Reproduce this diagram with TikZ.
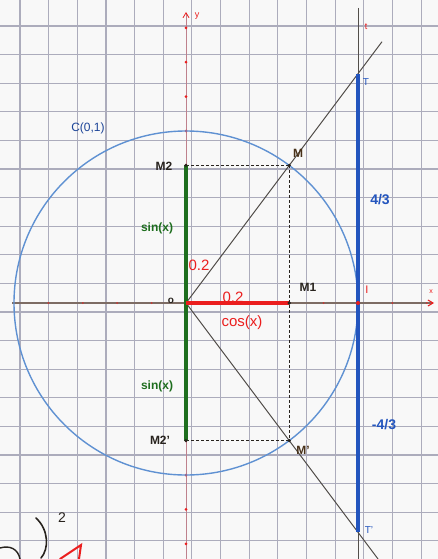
\documentclass[tikz,border=0pt]{standalone}
\usepackage{fontspec}
\setmainfont{Liberation Sans}
\usetikzlibrary{arrows.meta}
\definecolor{paper}{RGB}{248,248,248}
\definecolor{gridgray}{RGB}{172,172,188}
\definecolor{circblue}{RGB}{95,145,210}
\definecolor{tanblue}{RGB}{35,85,190}
\definecolor{sgreen}{RGB}{30,110,30}
\definecolor{cred}{RGB}{235,30,30}
\definecolor{axisc}{RGB}{125,108,100}
\definecolor{inkdark}{RGB}{40,35,30}
\begin{document}
\begin{tikzpicture}[x=1pt,y=-1pt,
  gridline/.style={draw=gridgray,line width=1.1pt},
  axisline/.style={draw=axisc,line width=1.1pt},
  thinline/.style={draw=inkdark!80,line width=1pt},
  dashline/.style={draw=inkdark,line width=1pt,dash pattern=on 3pt off 2pt},
  dot/.style={fill=cred,circle,inner sep=0pt,minimum size=3pt},
  xdot/.style={fill=cred!70!axisc,circle,inner sep=0pt,minimum size=2pt},
  mlabel/.style={font=\bfseries\fontsize{12}{12}\selectfont,text=inkdark,inner sep=1pt},
  rlabel/.style={font=\fontsize{15}{15}\selectfont,text=cred,inner sep=1pt},
  glabel/.style={font=\bfseries\fontsize{12}{12}\selectfont,text=sgreen,inner sep=1pt},
  blabel/.style={font=\bfseries\fontsize{14}{14}\selectfont,text=tanblue,inner sep=1pt},
  tiny/.style={font=\fontsize{9}{9}\selectfont,inner sep=1pt}]
\useasboundingbox (0,0) rectangle (438,559);
\fill[paper] (0,0) rectangle (438,559);
% grid paper
\foreach \i in {0,...,14} \draw[gridline] ({20+28.65*\i},0) -- ({20+28.65*\i},559);
\foreach \j in {0,...,18} \draw[gridline] (0,{26+28.6*\j}) -- (438,{26+28.6*\j});
% key points
\coordinate (O) at (186,303);
\coordinate (M) at (289.2,165.4);
\coordinate (Mp) at (289.2,440.6);
\coordinate (M1) at (289.2,303);
\coordinate (M2) at (186,165.4);
\coordinate (M2p) at (186,440.6);
\coordinate (I) at (358,303);
\coordinate (T) at (358,73.7);
\coordinate (Tp) at (358,532.3);
\coordinate (xl) at (12,303);
\coordinate (xr) at (434,303);
\coordinate (yb) at (186,559);
\coordinate (yt) at (186,12);
\coordinate (tt) at (358,8);
\coordinate (tb) at (358,559);
\coordinate (Mext) at (382,41.7);
\coordinate (Mpext) at (378,559);
% axes
\draw[axisline,-{Straight Barb[length=5pt,width=6pt,color=cred]}] (xl) -- (xr);
\draw[draw=gridgray!70!cred,line width=0.8pt,-{Straight Barb[length=5pt,width=6pt,color=cred]}] (yb) -- (yt);
\foreach \k in {-4,...,7} \node[xdot] at ({186+34.4*\k},303) {};
\foreach \k in {-8,...,7} \node[dot] at (186,{303+34.4*\k}) {};
% circle C(0,1)
\draw[circblue,line width=1.4pt] (O) circle (172);
% tangent line t
\draw[thinline] (tt) -- (tb);
% lines OM and OM'
\draw[thinline] (O) -- (Mext);
\draw[thinline] (O) -- (Mpext);
% dashed projections
\draw[dashline] (M2) -- (M);
\draw[dashline] (M) -- (Mp);
\draw[dashline] (M2p) -- (Mp);
% thick segments
\draw[tanblue,line width=4pt] (T) -- (Tp);
\draw[sgreen,line width=3.6pt] (M2) -- (M2p);
\draw[cred,line width=4pt] (O) -- (M1);
% points
\foreach \p in {M,Mp,M1,M2,M2p} \fill[inkdark] (\p) circle (1.8pt);
\fill[cred] (I) circle (2pt);
% labels
\node[font=\fontsize{12}{12}\selectfont,text=tanblue!80!black,inner sep=1pt] (lC) at (88,128) {C(0,1)};
\node[tiny,text=cred] (ly) at (197,16) {y};
\node[tiny,text=cred] (lt) at (366,27) {t};
\node[tiny,text=tanblue,font=\fontsize{10}{10}\selectfont] (lT) at (366,82) {T};
\node[mlabel,text=inkdark!85!orange] (lM) at (298,153) {M};
\node[mlabel] (lM2) at (164,166) {M2};
\node[glabel] (ls1) at (157,228) {sin(x)};
\node[glabel] (ls2) at (157,386) {sin(x)};
\node[rlabel] (l02a) at (199,265) {0.2};
\node[rlabel] (l02b) at (233,297) {0.2};
\node[mlabel,font=\bfseries\fontsize{10}{10}\selectfont] (lo) at (171,301) {o};
\node[mlabel] (lM1) at (308,287) {M1};
\node[rlabel] (lcos) at (242,323) {cos(x)};
\node[tiny,text=cred,font=\fontsize{11}{11}\selectfont] (lI) at (367,290) {I};
\node[tiny,text=cred,font=\fontsize{7}{7}\selectfont] (lx) at (431,292) {x};
\node[blabel] (l43) at (380,200) {4/3};
\node[blabel] (lm43) at (384,425) {-4/3};
\node[mlabel] (lM2p) at (160,440) {M2'};
\node[mlabel,text=inkdark!85!orange] (lMp) at (303,450) {M'};
\node[tiny,text=tanblue,font=\fontsize{10}{10}\selectfont] (lTp) at (369,530) {T'};
% handwriting fragments, bottom left
\draw[inkdark,line width=1.6pt,line cap=round] (36,518) .. controls (49,530) and (49,549) .. (41,558);
\node[font=\fontsize{14}{14}\selectfont,text=inkdark,inner sep=0pt] (l2) at (62,518) {2};
\draw[cred,line width=2pt,line cap=round] (60,559) -- (81,545) -- (79,559);
\draw[inkdark,line width=1.4pt,line cap=round] (0,548) .. controls (10,545) and (18,549) .. (20,559);
\end{tikzpicture}
\end{document}
